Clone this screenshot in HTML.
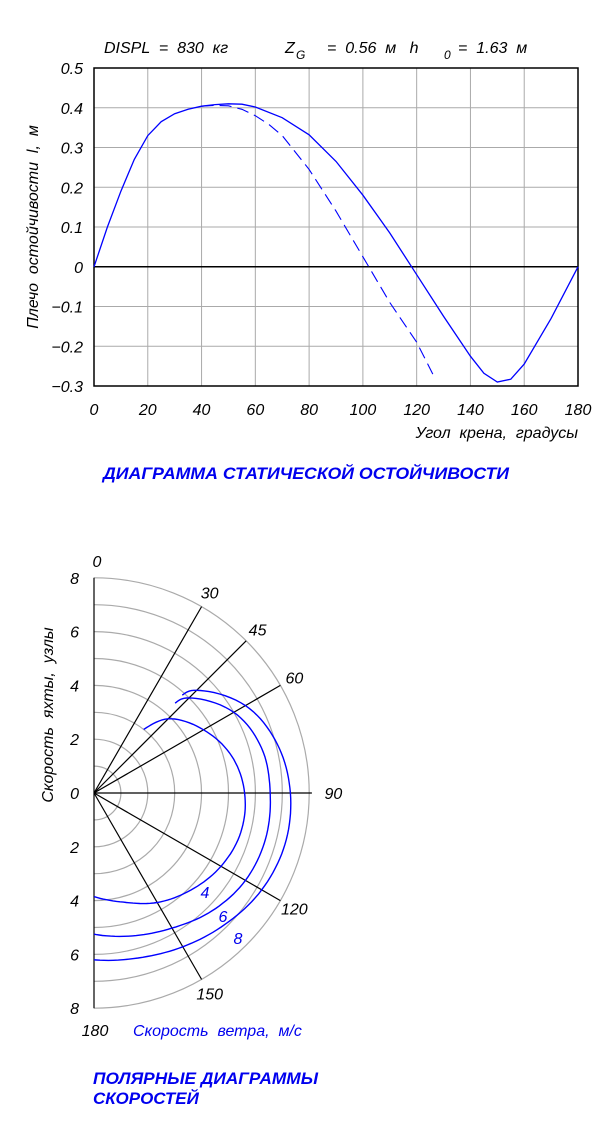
<!DOCTYPE html>
<html><head><meta charset="utf-8"><style>
body{margin:0;background:#fff;width:600px;height:1123px;overflow:hidden}
svg{display:block}
text{font-family:"Liberation Sans",sans-serif;font-style:italic;white-space:pre}
</style></head><body>
<svg id="root" width="600" height="1123">
<g id="gz"></g>
<g id="polar"></g>
<text x="103" y="479" font-size="17" font-weight="bold" fill="#0000ee" textLength="406" lengthAdjust="spacingAndGlyphs">ДИАГРАММА СТАТИЧЕСКОЙ ОСТОЙЧИВОСТИ</text>
<text x="93" y="1084" font-size="17" font-weight="bold" fill="#0000ee" textLength="225" lengthAdjust="spacingAndGlyphs">ПОЛЯРНЫЕ ДИАГРАММЫ</text>
<text x="93" y="1104" font-size="17" font-weight="bold" fill="#0000ee">СКОРОСТЕЙ</text>
</svg>
<script>
const NS="http://www.w3.org/2000/svg";
// ---- stability chart data ----
const xTicks=[0,20,40,60,80,100,120,140,160,180];
const yTicks=[0.5,0.4,0.3,0.2,0.1,0,-0.1,-0.2,-0.3];
const solidAngles=[0,5,10,15,20,25,30,35,40,45,50,55,60,70,80,90,100,110,120,130,140,145,150,155,160,170,180];
const solidValues=[0,0.1,0.19,0.27,0.33,0.365,0.385,0.396,0.404,0.408,0.41,0.409,0.402,0.375,0.332,0.265,0.18,0.085,-0.02,-0.125,-0.225,-0.268,-0.29,-0.283,-0.245,-0.13,0];
const dashAngles=[40,45,50,55,60,65,70,80,90,100,110,120,126];
const dashValues=[0.404,0.406,0.405,0.396,0.38,0.358,0.33,0.245,0.14,0.025,-0.09,-0.19,-0.27];
// ---- polar chart data ----
const polarRings=[1,2,3,4,5,6,7,8];
const rayAngles=[30,45,60,90,120,150];
const speedTicks=[8,6,4,2,0,2,4,6,8];
const curveNames=["4","6","8"];
const polarAngles4=[38,45,60,75,90,105,120,135,150,165,180];
const polarSpeeds4=[3.0,3.9,4.7,5.3,5.6,5.65,5.45,5.1,4.7,4.2,3.85];
const polarAngles6=[42,45,60,75,90,105,120,135,150,165,180];
const polarSpeeds6=[4.5,5.0,6.0,6.45,6.55,6.6,6.5,6.2,5.8,5.5,5.25];
const polarAngles8=[42,45,60,75,90,105,120,135,150,165,180];
const polarSpeeds8=[4.9,5.4,6.5,7.05,7.3,7.35,7.2,6.9,6.6,6.35,6.2];

function el(tag,attrs,parent,txt){const e=document.createElementNS(NS,tag);for(const k in attrs)e.setAttribute(k,attrs[k]);if(txt!==undefined)e.textContent=txt;parent.appendChild(e);return e;}

const X0=94,X1=578,Y0=68,Y1=386;
const sx=a=>X0+(a-0)/(180)*(X1-X0);
const sy=v=>Y0+(0.5-v)/0.8*(Y1-Y0);
const g=document.getElementById('gz');
let t=el('text',{x:104,y:53,'font-size':16},g,'DISPL  =  830  кг');


t=el('text',{x:285,y:53,'font-size':16},g,'Z');


t=el('text',{x:296,y:59,'font-size':12},g,'G');


t=el('text',{x:327,y:53,'font-size':16},g,'=  0.56  м   h');


t=el('text',{x:444,y:59,'font-size':12},g,'0');


t=el('text',{x:458,y:53,'font-size':16},g,'=  1.63  м');


xTicks.forEach(a=>{
  if(a>0&&a<180){const l=el('line',{x1:sx(a),x2:sx(a),y1:Y0,y2:Y1,stroke:'#aaa','stroke-width':1},g);
  
  }
  const tx=el('text',{x:sx(a),y:415,'font-size':16,'text-anchor':'middle'},g,String(a));
  
  
});
yTicks.forEach(v=>{
  if(v<0.5&&v>-0.3&&v!==0){const l=el('line',{x1:X0,x2:X1,y1:sy(v),y2:sy(v),stroke:'#aaa','stroke-width':1},g);
  
  }
  const tx=el('text',{x:83,y:sy(v)+6,'font-size':16,'text-anchor':'end'},g,v===0?'0':(v<0?'\u2212'+String(-v):String(v)));
  
  
});
let fr=el('rect',{x:X0,y:Y0,width:X1-X0,height:Y1-Y0,fill:'none',stroke:'#000','stroke-width':1.5},g);


let zl=el('line',{x1:X0,x2:X1,y1:sy(0),y2:sy(0),stroke:'#000','stroke-width':1.5},g);


t=el('text',{x:578,y:438,'font-size':16,'text-anchor':'end'},g,'Угол  крена,  градусы');


t=el('text',{x:0,y:0,'font-size':16,'text-anchor':'middle',transform:'translate(38,227) rotate(-90)'},g,'Плечо  остойчивости  l,  м');


function poly(xs,ys){return xs.map((a,i)=>sx(a).toFixed(1)+','+sy(ys[i]).toFixed(1)).join(' ');}
let p=el('polyline',{points:poly(solidAngles,solidValues),fill:'none',stroke:'#0000ff','stroke-width':1.3},g);


p=el('polyline',{points:poly(dashAngles,dashValues),fill:'none',stroke:'#0000ff','stroke-width':1.1,'stroke-dasharray':'12,6'},g);



const CX=94,CY=793,K=26.9;
const pg=document.getElementById('polar');
const px=(ang,r)=>CX+r*K*Math.sin(ang*Math.PI/180);
const py=(ang,r)=>CY-r*K*Math.cos(ang*Math.PI/180);
polarRings.forEach(r=>{
  const c=el('path',{d:`M${CX},${CY-r*K} A${r*K},${r*K} 0 0 1 ${CX},${CY+r*K}`,fill:'none',stroke:'#aaa','stroke-width':1.2},pg);
  
  
});
let ax=el('line',{x1:CX,x2:CX,y1:CY-8*K,y2:CY+8*K,stroke:'#000','stroke-width':1.2},pg);


rayAngles.forEach(a=>{
  const r=a===90?8.1:8;
  const l=el('line',{x1:CX,y1:CY,x2:px(a,r),y2:py(a,r),stroke:'#000','stroke-width':1.2},pg);
  
  
  const lr=a===90?8.9:8.6;
  const tx=el('text',{x:px(a,lr),y:py(a,lr)+6,'font-size':16,'text-anchor':'middle'},pg,String(a));
  
  
});
speedTicks.forEach((s,i)=>{
  const tx=el('text',{x:79,y:CY+(i-4)*2*K+6,'font-size':16,'text-anchor':'end'},pg,String(s));
  
  
});
t=el('text',{x:97,y:567,'font-size':16,'text-anchor':'middle'},pg,'0');


t=el('text',{x:95,y:1036,'font-size':16,'text-anchor':'middle'},pg,'180');


t=el('text',{x:0,y:0,'font-size':16,'text-anchor':'middle',transform:'translate(53,715) rotate(-90)'},pg,'Скорость  яхты,  узлы');


t=el('text',{x:133,y:1036,'font-size':16,fill:'#0000ee'},pg,'Скорость  ветра,  м/с');


const curves=[[polarAngles4,polarSpeeds4],[polarAngles6,polarSpeeds6],[polarAngles8,polarSpeeds8]];
const labelPos=[[205,898],[223,922],[238,944]];
curves.forEach((c,ci)=>{
  const [A,S]=c;
  let pts=[];
  for(let i=0;i<A.length-1;i++){
    const p0=i>0?i-1:i,p3=i+2<A.length?i+2:i+1;
    for(let k=0;k<10;k++){
      const tt=k/10;
      const cr=(a,b,c2,d)=>0.5*((2*b)+(-a+c2)*tt+(2*a-5*b+4*c2-d)*tt*tt+(-a+3*b-3*c2+d)*tt*tt*tt);
      const ang=cr(A[p0],A[i],A[i+1],A[p3]);
      const r=cr(S[p0],S[i],S[i+1],S[p3]);
      pts.push(px(ang,r).toFixed(1)+','+py(ang,r).toFixed(1));
    }
  }
  const n=A.length-1;pts.push(px(A[n],S[n]).toFixed(1)+','+py(A[n],S[n]).toFixed(1));
  const pl=el('polyline',{points:pts.join(' '),fill:'none',stroke:'#0000ff','stroke-width':1.4},pg);
  
  
  const tx=el('text',{x:labelPos[ci][0],y:labelPos[ci][1],'font-size':16,fill:'#0000ee','text-anchor':'middle'},pg,curveNames[ci]);
  
  
});
</script>
</body></html>
